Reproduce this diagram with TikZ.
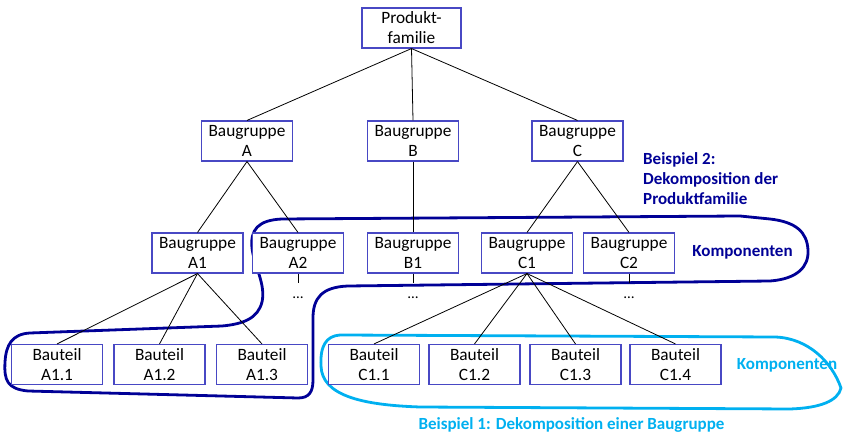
\documentclass[tikz,border=0pt]{standalone}
\usepackage{fontspec}
\setmainfont{Carlito}
\begin{document}
\definecolor{boxblue}{RGB}{72,72,196}
\definecolor{navyline}{RGB}{0,0,150}
\definecolor{cyanline}{RGB}{0,176,240}
\begin{tikzpicture}[x=1bp,y=-1bp,
  part/.style={draw=boxblue,line width=1.1bp,fill=white,minimum width=91bp,minimum height=40bp,
    inner sep=0pt,align=center,font=\fontsize{17.3bp}{20bp}\selectfont},
  link/.style={draw=black,line width=0.8bp},
  more/.style={font=\fontsize{15bp}{18bp}\selectfont,inner sep=0pt},
  hull/.style={line width=2.8bp,line join=round},
  tag/.style={font=\fontsize{17bp}{20bp}\selectfont\bfseries,inner sep=0pt}]
\useasboundingbox (0,0) rectangle (844,434);

% grouping outlines
\draw[hull,draw=cyanline] (340,335) -- (775,337)
  .. controls (808,338) and (832,362) .. (841,388)
  .. controls (838,401) and (820,408) .. (790,409)
  -- (420,407)
  .. controls (360,405) and (322,395) .. (321,366)
  .. controls (320,346) and (326,336) .. (340,335) -- cycle;

\draw[hull,draw=navyline] (313,380) -- (313,318)
  .. controls (313,298) and (322,287) .. (348,286)
  -- (770,281)
  .. controls (797,279) and (809,267) .. (808,250)
  .. controls (807,232) and (796,222) .. (770,219)
  -- (740,216) -- (282,219)
  .. controls (258,220) and (250,230) .. (252,248)
  .. controls (254,266) and (266,284) .. (262,302)
  .. controls (258,318) and (244,324) .. (222,326)
  -- (30,333)
  .. controls (12,334) and (6,345) .. (5,362)
  .. controls (4,380) and (7,389) .. (28,391)
  -- (298,398)
  .. controls (309,398) and (313,392) .. (313,380) -- cycle;

% tree of parts
\node[part,minimum width=99bp] (P) at (411.5,28) {Produkt-\\familie};
\node[part] (A) at (247,141) {Baugruppe\\A};
\node[part] (B) at (413,141) {Baugruppe\\B};
\node[part] (C) at (577.5,141) {Baugruppe\\C};
\node[part] (A1) at (197.5,253) {Baugruppe\\A1};
\node[part] (A2) at (298,253) {Baugruppe\\A2};
\node[part] (B1) at (413,253) {Baugruppe\\B1};
\node[part] (C1) at (527,253) {Baugruppe\\C1};
\node[part] (C2) at (629,253) {Baugruppe\\C2};
\node[part] (A11) at (57,364.5) {Bauteil\\A1.1};
\node[part] (A12) at (159.5,364.5) {Bauteil\\A1.2};
\node[part] (A13) at (262,364.5) {Bauteil\\A1.3};
\node[part] (C11) at (374,364.5) {Bauteil\\C1.1};
\node[part] (C12) at (474.5,364.5) {Bauteil\\C1.2};
\node[part] (C13) at (575.5,364.5) {Bauteil\\C1.3};
\node[part] (C14) at (675.5,364.5) {Bauteil\\C1.4};

\foreach \c in {A,B,C} \draw[link] (P.south) -- (\c.north);
\foreach \c in {A1,A2} \draw[link] (A.south) -- (\c.north);
\draw[link] (B.south) -- (B1.north);
\foreach \c in {C1,C2} \draw[link] (C.south) -- (\c.north);
\foreach \c in {A11,A12,A13} \draw[link] (A1.south) -- (\c.north);
\foreach \c in {C11,C12,C13,C14} \draw[link] (C1.south) -- (\c.north);

% continuation marks below open branches
\foreach \c in {A2,B1,C2} {
  \coordinate (\c t) at ([yshift=-9bp]\c.south);
  \draw[link] (\c.south) -- (\c t);
  \node[more] (\c d) at ([yshift=-24bp]\c.south) {…};
}

% labels
\node[tag,text=navyline,anchor=west,align=left] (ex2) at (643,179)
  {Beispiel 2:\\Dekomposition der\\Produktfamilie};
\node[tag,text=navyline] (k2) at (742.5,252) {Komponenten};
\node[tag,text=cyanline] (k1) at (787,365) {Komponenten};
\node[tag,text=cyanline] (ex1) at (571.5,425) {Beispiel 1: Dekomposition einer Baugruppe};
\end{tikzpicture}
\end{document}
